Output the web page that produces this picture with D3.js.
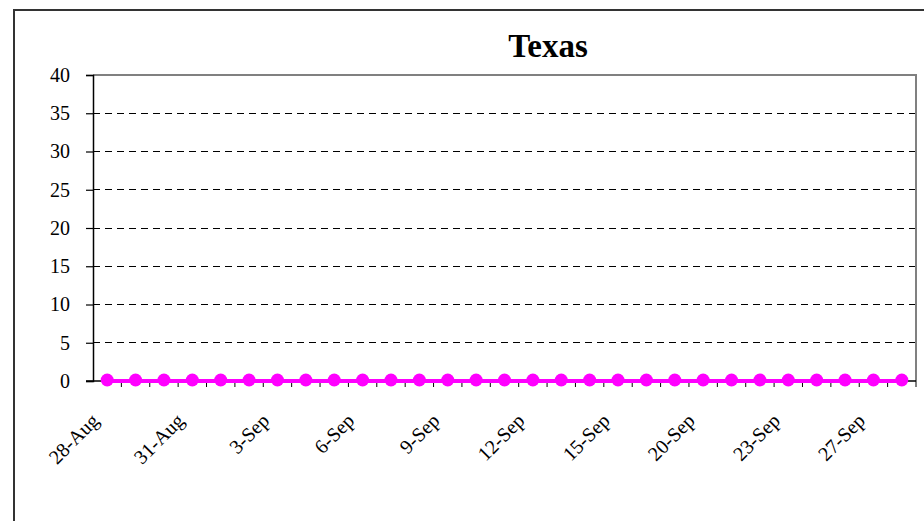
<!DOCTYPE html>
<html>
<head>
<meta charset="utf-8">
<script src="https://cdn.jsdelivr.net/npm/d3@7"></script>
<style>
  html, body { margin: 0; padding: 0; background: #fff; }
  svg { display: block; font-family: "Liberation Serif", "Times New Roman", serif; }
</style>
</head>
<body>
<svg id="chart" width="924" height="521"></svg>
<script>
const title = "Texas";
const categories = [
  "28-Aug","29-Aug","30-Aug","31-Aug","1-Sep","2-Sep","3-Sep","4-Sep","5-Sep","6-Sep",
  "7-Sep","8-Sep","9-Sep","10-Sep","11-Sep","12-Sep","13-Sep","14-Sep","15-Sep","17-Sep",
  "18-Sep","20-Sep","21-Sep","22-Sep","23-Sep","24-Sep","26-Sep","27-Sep","28-Sep"
];
const values = [0,0,0,0,0,0,0,0,0,0,0,0,0,0,0,0,0,0,0,0,0,0,0,0,0,0,0,0,0];
const xTickLabels = ["28-Aug","31-Aug","3-Sep","6-Sep","9-Sep","12-Sep","15-Sep","20-Sep","23-Sep","27-Sep"];
const yTicks = [0,5,10,15,20,25,30,35,40];

const svg = d3.select("#chart");
const plotL = 93, plotR = 916, plotT = 75, plotB = 381;

// outer chart frame
svg.append("rect")
  .attr("x", 14).attr("y", 10).attr("width", 1000).attr("height", 600)
  .attr("fill", "none").attr("stroke", "#333").attr("stroke-width", 2);

const x = d3.scaleBand().domain(categories).range([plotL, plotR]).paddingInner(0).paddingOuter(0);
const y = d3.scaleLinear().domain([0, 40]).range([plotB, plotT]);

// gridlines
svg.append("g").selectAll("line")
  .data(yTicks.filter(d => d > 0 && d < 40))
  .join("line")
  .attr("x1", plotL).attr("x2", plotR)
  .attr("y1", d => y(d)).attr("y2", d => y(d))
  .attr("stroke", "#000").attr("stroke-width", 1)
  .attr("stroke-dasharray", "7,5")
  .attr("shape-rendering", "crispEdges");

// plot border top/right
svg.append("path")
  .attr("d", `M${plotL},${y(40)}H${plotR}V${plotB}`)
  .attr("fill", "none").attr("stroke", "#808080").attr("stroke-width", 2);

// y axis
const yAxis = d3.axisLeft(y).tickValues(yTicks).tickSize(7).tickPadding(16);
const gy = svg.append("g").attr("transform", `translate(${plotL},0)`).call(yAxis);
gy.select(".domain").attr("stroke", "#000").attr("stroke-width", 1.5);
gy.selectAll(".tick line").attr("stroke", "#000").attr("stroke-width", 1.2);
gy.selectAll(".tick text")
  .attr("font-family", "'Liberation Serif','Times New Roman',serif")
  .attr("font-size", 20).attr("fill", "#000");

// x axis: ticks at category boundaries
const bw = x.bandwidth();
const boundaries = categories.map(c => x(c)).concat([x(categories[categories.length-1]) + bw]);
svg.append("g").selectAll("line")
  .data(boundaries.slice(1))
  .join("line")
  .attr("x1", d => d).attr("x2", d => d)
  .attr("y1", plotB).attr("y2", plotB + 6)
  .attr("stroke", "#000").attr("stroke-width", 1);
svg.append("line")
  .attr("x1", plotL - 7).attr("x2", plotR)
  .attr("y1", plotB).attr("y2", plotB)
  .attr("stroke", "#000").attr("stroke-width", 1.5);

// x labels
svg.append("g").selectAll("text")
  .data(xTickLabels)
  .join("text")
  .attr("transform", d => `translate(${x(d) + bw/2 - 7},${plotB + 41}) rotate(-45)`)
  .attr("text-anchor", "end")
  .attr("font-size", 20).attr("fill", "#000")
  .text(d => d);

// line series
const line = d3.line()
  .x((d, i) => x(categories[i]) + bw/2)
  .y(d => y(d));
svg.append("path")
  .datum(values)
  .attr("d", line)
  .attr("fill", "none").attr("stroke", "#FF00FF").attr("stroke-width", 4);

svg.append("g").selectAll("circle")
  .data(values)
  .join("circle")
  .attr("cx", (d, i) => x(categories[i]) + bw/2)
  .attr("cy", d => y(d) - 1)
  .attr("r", 6.5)
  .attr("fill", "#FF00FF");

// title
svg.append("text")
  .attr("x", 548).attr("y", 57)
  .attr("text-anchor", "middle")
  .attr("font-size", 33).attr("font-weight", "bold").attr("fill", "#000")
  .text(title);
</script>
</body>
</html>
